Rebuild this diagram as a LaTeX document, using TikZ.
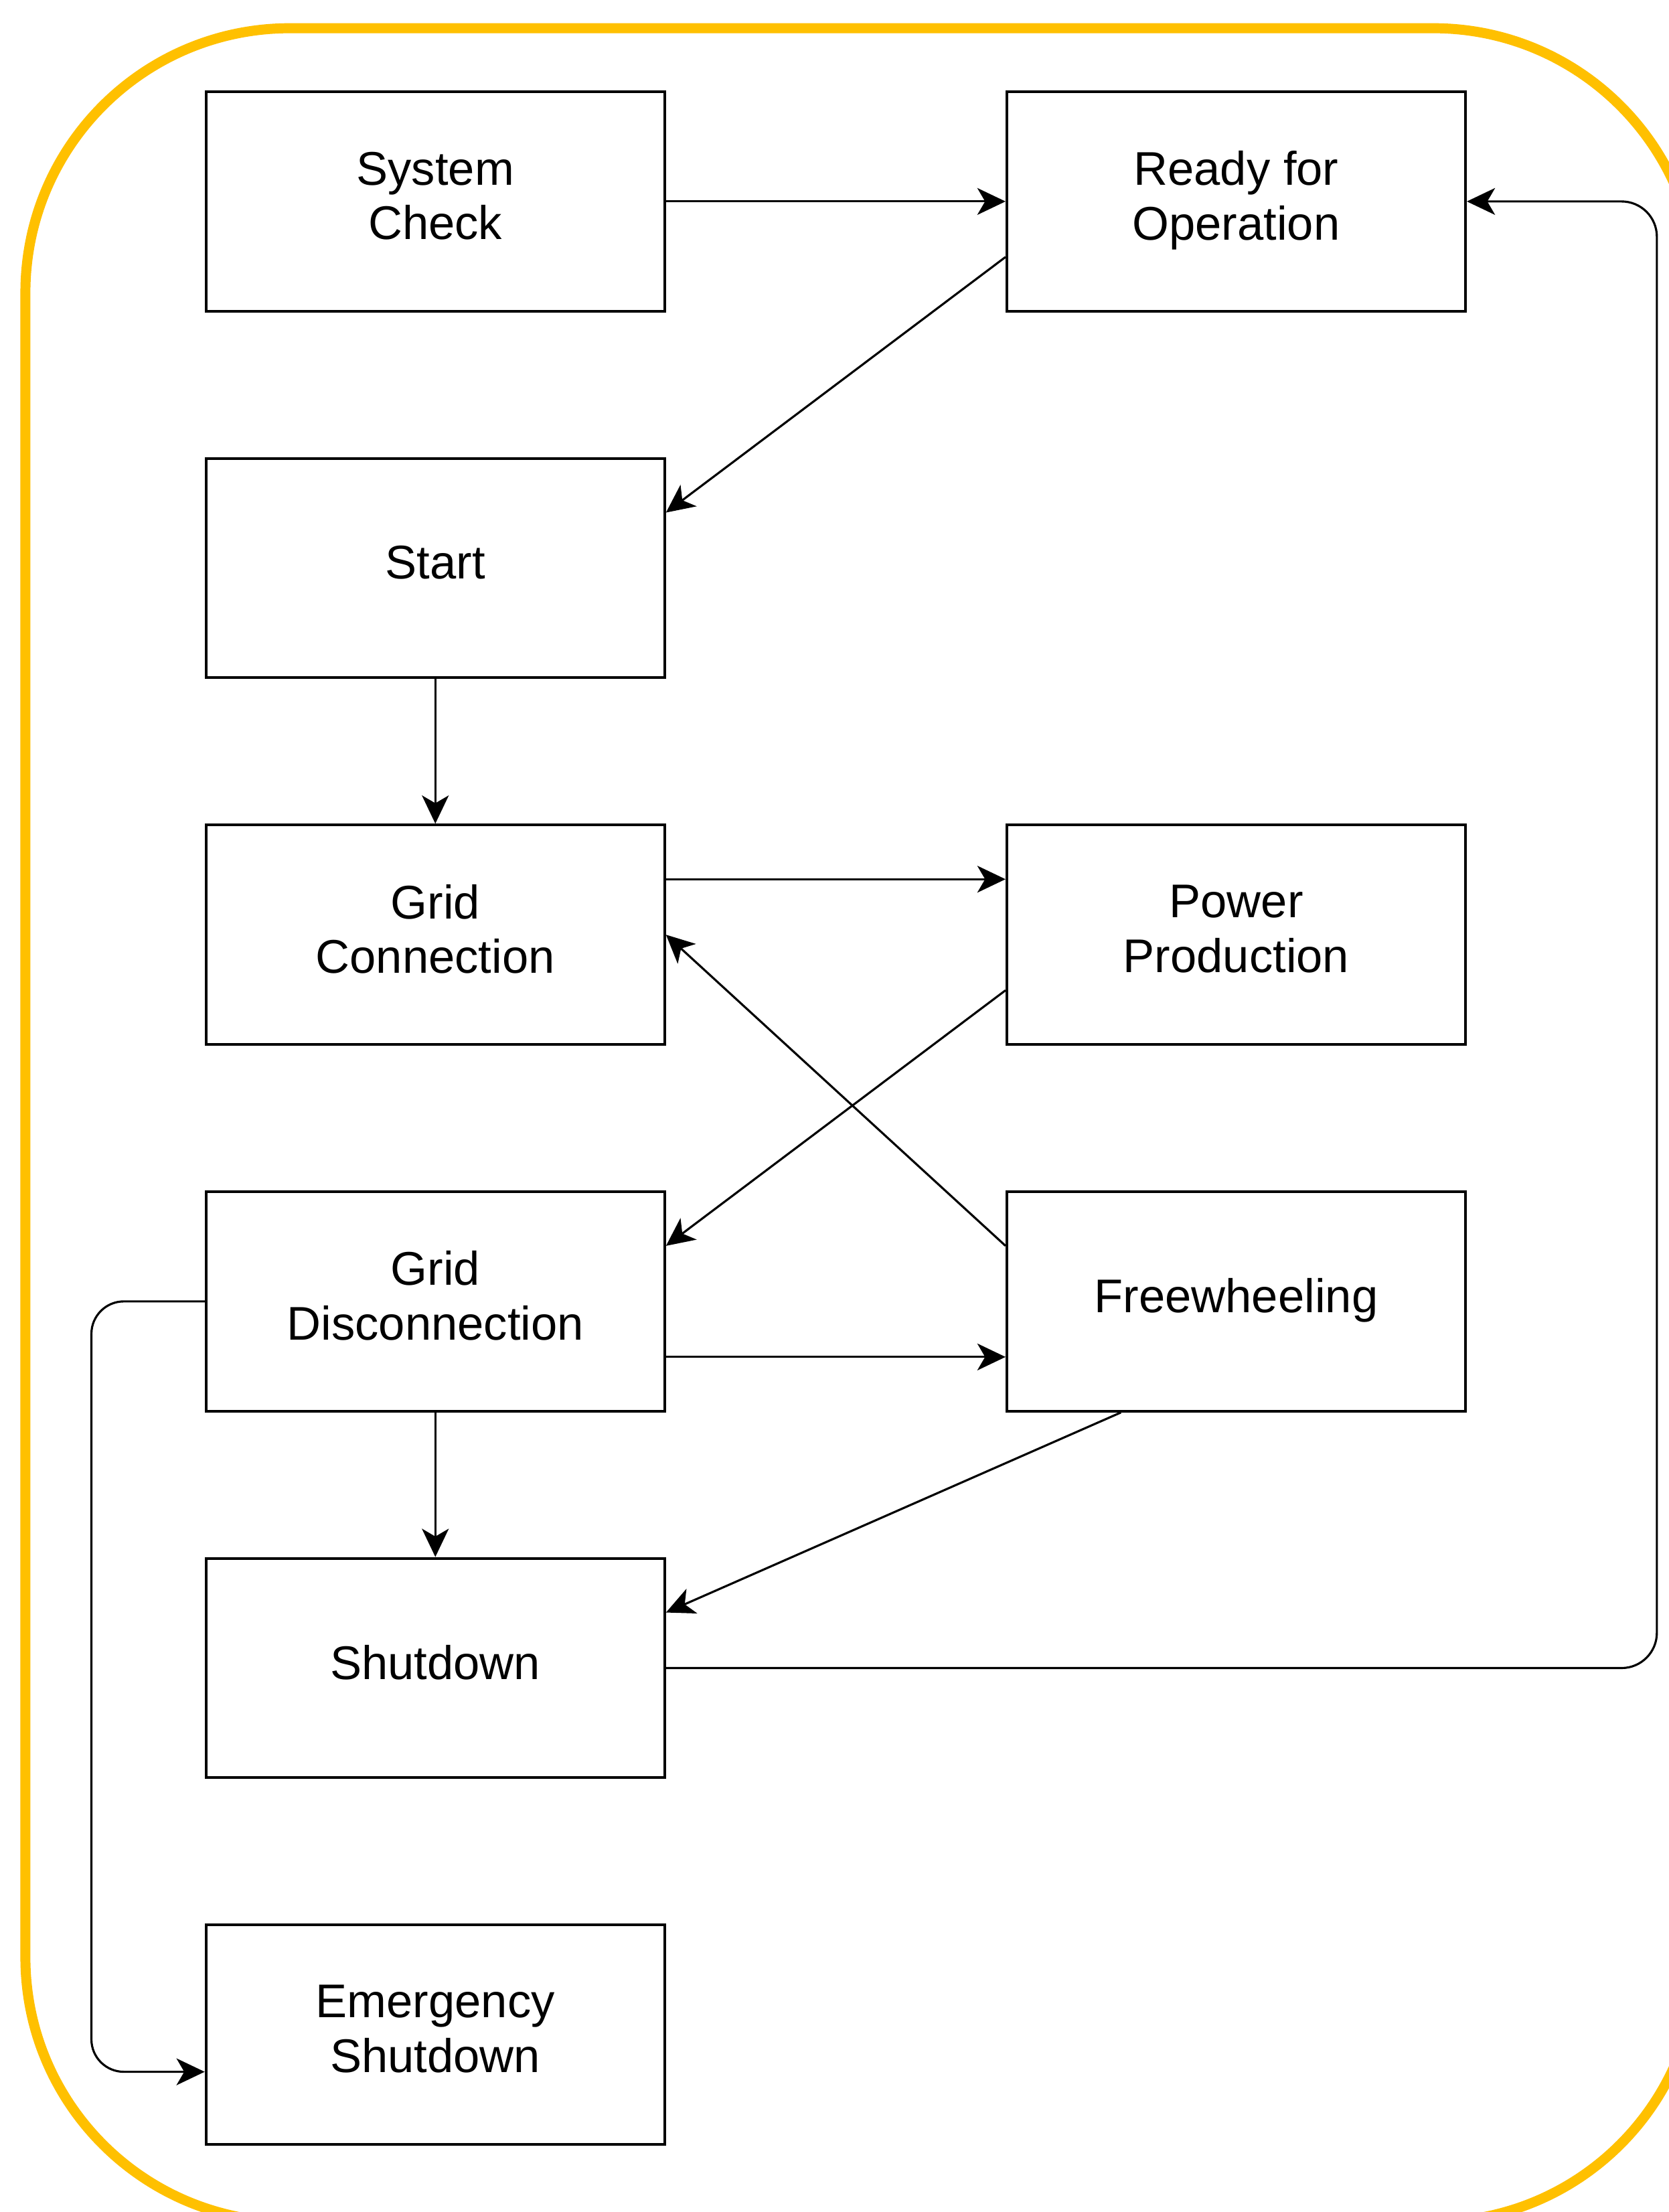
\documentclass[tikz,border=0pt]{standalone}
\usepackage{fontspec}
\setmainfont{Liberation Sans}
\usetikzlibrary{arrows.meta,calc}
\definecolor{frameyellow}{RGB}{255,192,0}
\tikzset{
  box/.style={draw=black, line width=2pt, minimum width=325pt, minimum height=155.5pt,
    inner sep=0pt, align=center, text depth=8.5pt,
    font=\fontsize{33.5}{38.5}\selectfont},
  conn/.style={draw=black, line width=1.5pt, -{Stealth[length=20pt, width=19pt, inset=5.5pt]}},
  frame/.style={draw=frameyellow, line width=7.1pt, rounded corners=187.5pt}
}
\begin{document}
\begin{tikzpicture}[x=1pt,y=-1pt]
\useasboundingbox (0,0) rectangle (1183,1568);
\begin{scope}
\clip (0,0) rectangle (1183,1568);
\fill[white] (0,0) rectangle (1183,1568);
\draw[frame] (18,20) rectangle (1203.5,1575);
\end{scope}

\node[box] (sc) at (308.6,142.8) {System\\Check};
\node[box] (ro) at (876.3,142.8) {Ready for\\Operation};
\node[box] (st) at (308.6,402.7) {Start};
\node[box] (gc) at (308.6,662.6) {Grid\\Connection};
\node[box] (pp) at (876.3,662.6) {Power\\Production};
\node[box] (gd) at (308.6,922.5) {Grid\\Disconnection};
\node[box] (fw) at (876.3,922.5) {Freewheeling};
\node[box] (sd) at (308.6,1182.4) {Shutdown};
\node[box] (em) at (308.6,1442.3) {Emergency\\Shutdown};

\coordinate (rr) at (1174.5,142.8);
\coordinate (lc) at (64.8,922.5);

\draw[conn] (sc.east) -- (ro.west);
\draw[conn] ($(ro.south west)!0.25!(ro.north west)$) -- ($(st.north east)!0.25!(st.south east)$);
\draw[conn] (st.south) -- (gc.north);
\draw[conn] ($(gc.north east)!0.25!(gc.south east)$) -- ($(pp.north west)!0.25!(pp.south west)$);
\draw[conn] ($(pp.north west)!0.75!(pp.south west)$) -- ($(gd.north east)!0.25!(gd.south east)$);
\draw[conn] ($(fw.north west)!0.25!(fw.south west)$) -- (gc.east);
\draw[conn] ($(gd.north east)!0.75!(gd.south east)$) -- ($(fw.north west)!0.75!(fw.south west)$);
\draw[conn] (gd.south) -- (sd.north);
\draw[conn] ($(fw.south west)!0.25!(fw.south east)$) -- ($(sd.north east)!0.25!(sd.south east)$);
\draw[conn, rounded corners=25pt] (sd.east) -- (sd.east -| rr) -- (rr) -- (ro.east);
\coordinate (emin) at ($(em.north west)!0.667!(em.south west)$);
\draw[conn, rounded corners=23pt] (gd.west) -- (lc) -- (lc |- emin) -- (emin);
\end{tikzpicture}
\end{document}
